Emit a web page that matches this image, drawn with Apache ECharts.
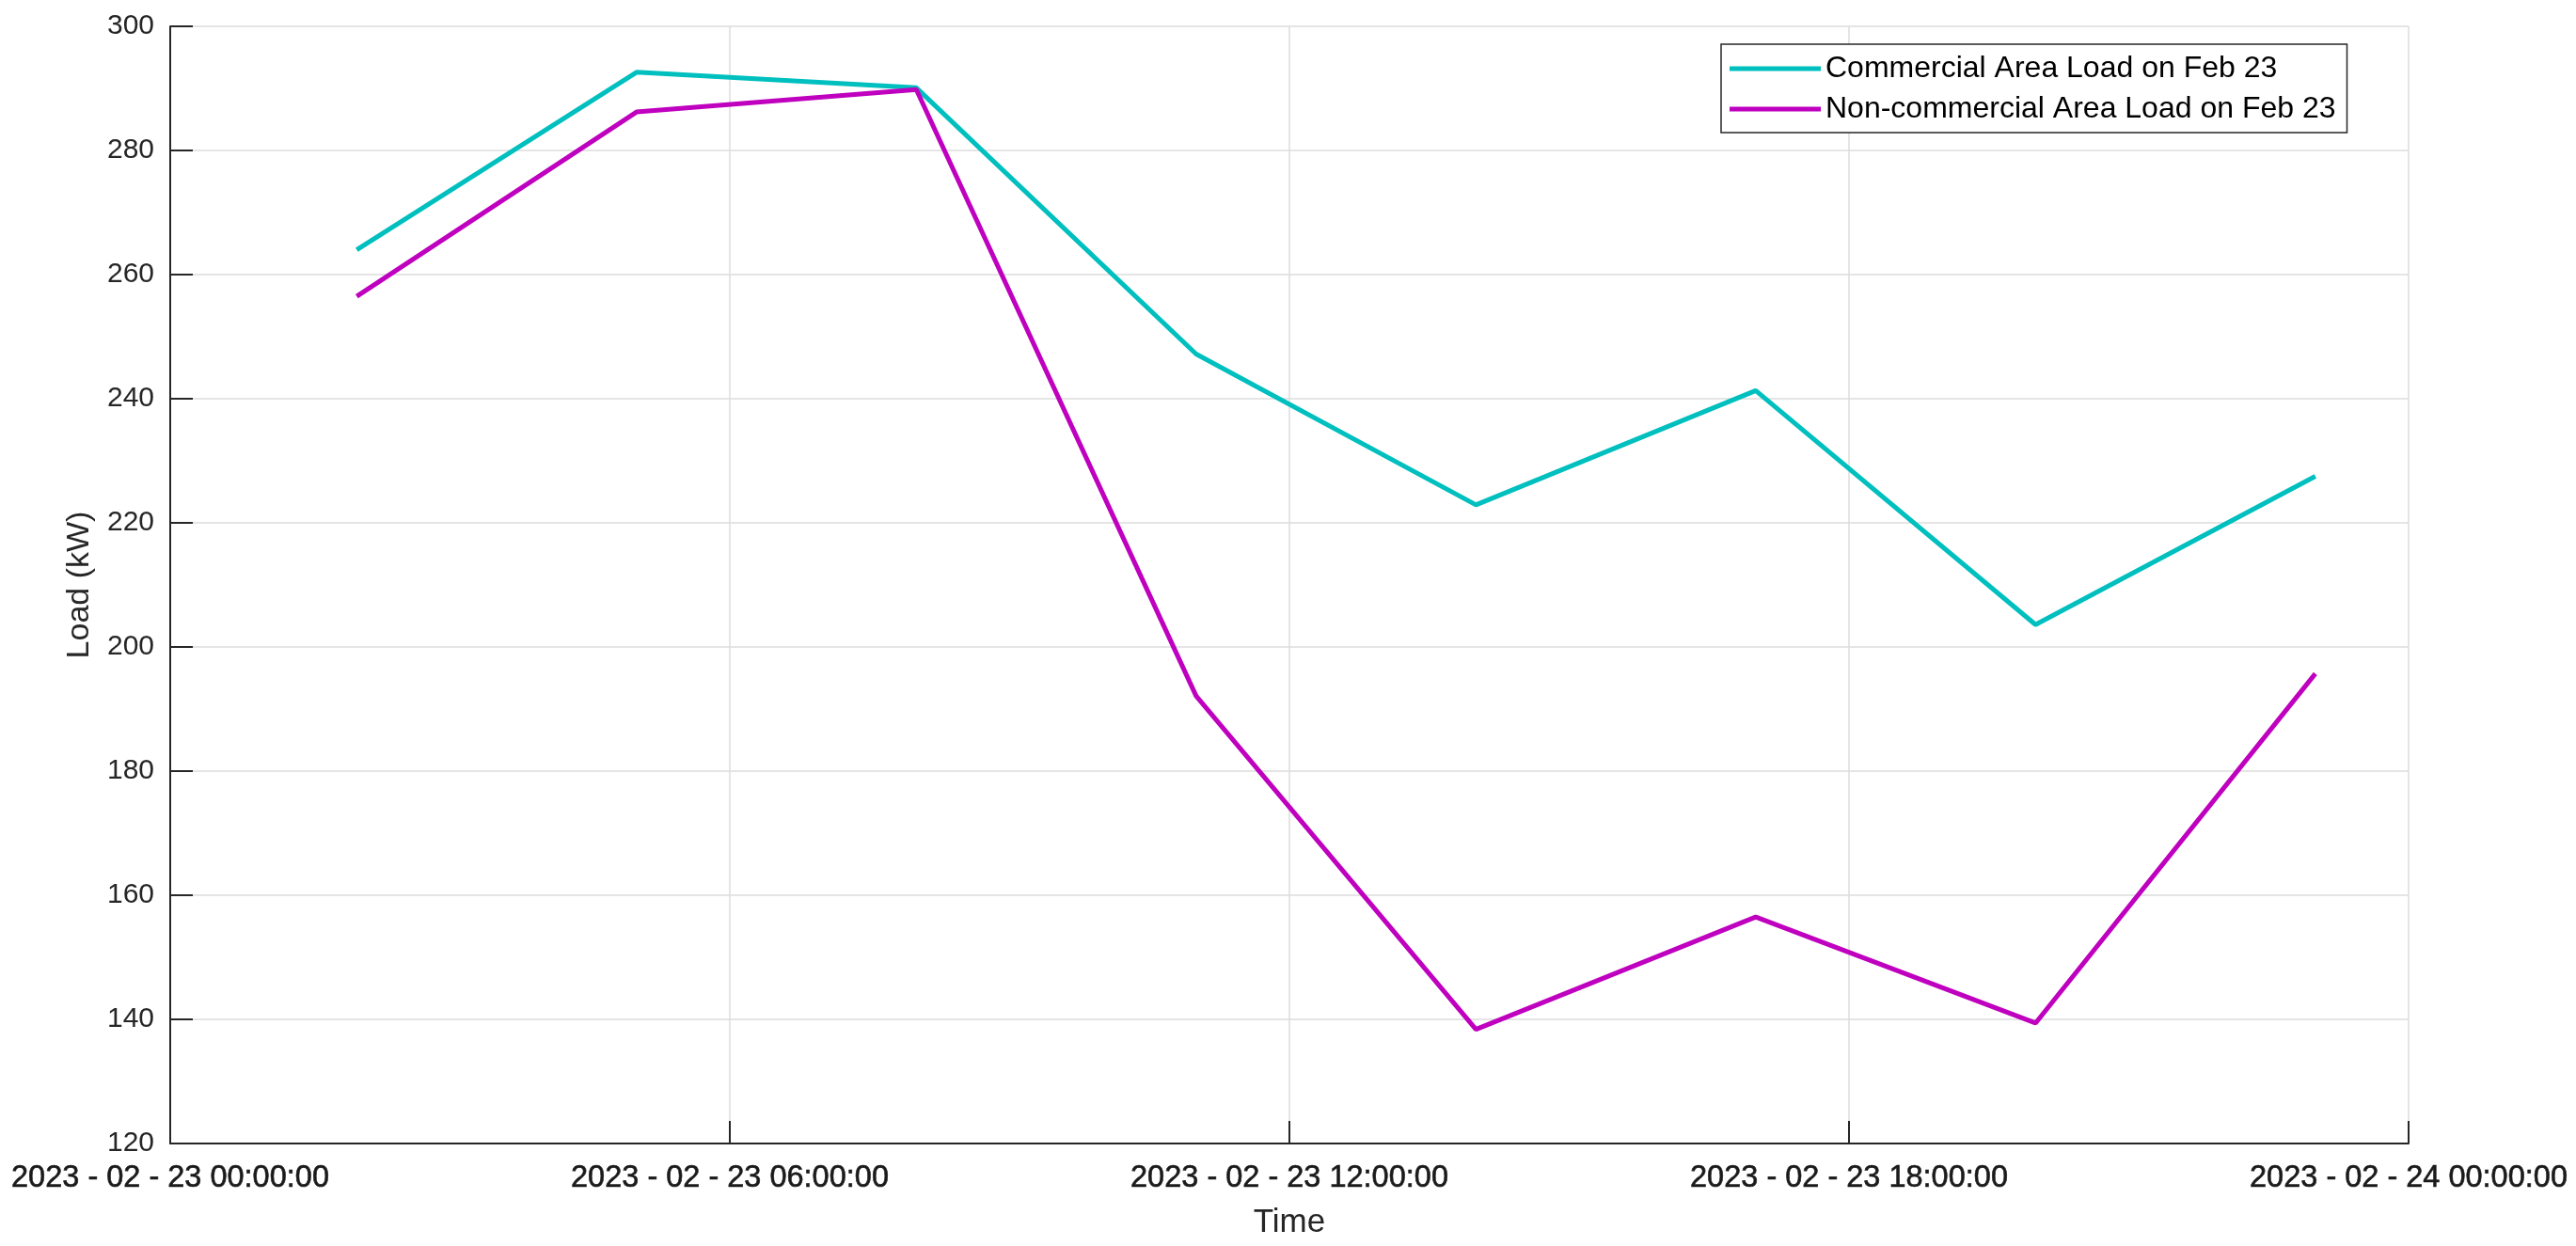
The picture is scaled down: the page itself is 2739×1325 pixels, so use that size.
<!DOCTYPE html>
<html>
<head>
<meta charset="utf-8">
<script src="https://cdn.jsdelivr.net/npm/echarts@6/dist/echarts.min.js"></script>
<style>
html,body{margin:0;padding:0;background:#fff;}
#chart{width:2739px;height:1325px;}
</style>
</head>
<body>
<div id="chart"></div>
<script>
// Data (times in UTC)
const times = ["2023-02-23T02:00:00Z","2023-02-23T05:00:00Z","2023-02-23T08:00:00Z","2023-02-23T11:00:00Z",
               "2023-02-23T14:00:00Z","2023-02-23T17:00:00Z","2023-02-23T20:00:00Z","2023-02-23T23:00:00Z"];
const commercialLoad = [264.0, 292.6, 290.1, 247.2, 222.9, 241.3, 203.6, 227.5];
const nonCommercialLoad = [256.5, 286.2, 289.8, 192.1, 138.4, 156.5, 139.4, 195.7];
const seriesNames = ["Commercial Area Load on Feb 23", "Non-commercial Area Load on Feb 23"];
const xStart = "2023-02-23T00:00:00Z";
const xEnd = "2023-02-24T00:00:00Z";
const yTicks = [120, 140, 160, 180, 200, 220, 240, 260, 280, 300];

const toMs = s => Date.parse(s);
const pad = n => String(n).padStart(2, '0');
const fmt = v => {
  const d = new Date(v);
  return d.getUTCFullYear() + ' - ' + pad(d.getUTCMonth() + 1) + ' - ' + pad(d.getUTCDate()) + ' ' +
    pad(d.getUTCHours()) + ':' + pad(d.getUTCMinutes()) + ':' + pad(d.getUTCSeconds());
};

const font = '"Liberation Sans", Arial, Helvetica, sans-serif';
const dark = '#262626';
const gridColor = '#dcdcdc';

const chart = echarts.init(document.getElementById('chart'), null, {renderer: 'canvas'});
chart.setOption({
  backgroundColor: '#ffffff',
  animation: false,
  textStyle: {fontFamily: font},
  grid: {left: 181, right: 178, top: 28, bottom: 109, containLabel: false},
  legend: {
    orient: 'vertical',
    left: 1830,
    top: 47,
    backgroundColor: '#ffffff',
    borderColor: dark,
    borderWidth: 1.5,
    borderRadius: 0,
    padding: [10, 12, 9, 9],
    itemGap: 11,
    itemWidth: 97,
    itemHeight: 5,
    icon: 'rect',
    textStyle: {fontFamily: font, fontSize: 32, color: '#000', lineHeight: 32},
    data: seriesNames
  },
  xAxis: {
    type: 'value',
    min: toMs(xStart),
    max: toMs(xEnd),
    interval: 6 * 3600 * 1000,
    name: 'Time',
    nameLocation: 'middle',
    nameGap: 67,
    nameTextStyle: {fontFamily: font, fontSize: 35, color: dark},
    axisLine: {show: true, onZero: false, lineStyle: {color: dark, width: 2}},
    axisTick: {show: true, inside: true, length: 24, lineStyle: {color: dark, width: 2}},
    axisLabel: {fontFamily: font, fontSize: 32.5, color: '#1a1a1a', margin: 21, formatter: fmt,
                showMinLabel: true, showMaxLabel: true, hideOverlap: false,
                textBorderColor: '#1a1a1a', textBorderWidth: 0.6},
    splitLine: {show: true, lineStyle: {color: gridColor, width: 1.5}}
  },
  yAxis: {
    type: 'value',
    min: yTicks[0],
    max: yTicks[yTicks.length - 1],
    interval: yTicks[1] - yTicks[0],
    name: 'Load (kW)',
    nameLocation: 'middle',
    nameRotate: 90,
    nameGap: 79,
    nameTextStyle: {fontFamily: font, fontSize: 34, color: dark},
    axisLine: {show: true, onZero: false, lineStyle: {color: dark, width: 2}},
    axisTick: {show: true, inside: true, length: 24, lineStyle: {color: dark, width: 2}},
    axisLabel: {fontFamily: font, fontSize: 30, color: dark, margin: 17},
    splitLine: {show: true, lineStyle: {color: gridColor, width: 1.5}}
  },
  series: [
    {
      name: seriesNames[0],
      type: 'line',
      data: times.map((t, i) => [toMs(t), commercialLoad[i]]),
      showSymbol: false,
      symbol: 'none',
      color: '#00BFBF',
      lineStyle: {color: '#00BFBF', width: 5},
      z: 3
    },
    {
      name: seriesNames[1],
      type: 'line',
      data: times.map((t, i) => [toMs(t), nonCommercialLoad[i]]),
      showSymbol: false,
      symbol: 'none',
      color: '#BF00BF',
      lineStyle: {color: '#BF00BF', width: 5},
      z: 3
    }
  ]
});
</script>
</body>
</html>
